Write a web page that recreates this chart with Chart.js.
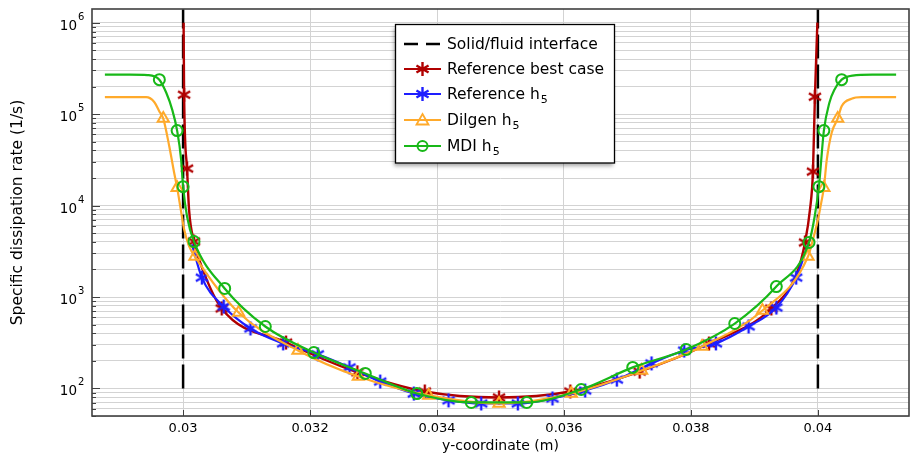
<!DOCTYPE html>
<html>
<head>
<meta charset="utf-8">
<script src="https://cdn.jsdelivr.net/npm/chart.js@4.4.1/dist/chart.umd.min.js"></script>
<style>
  html, body { margin: 0; padding: 0; background: #fff; overflow: hidden; }
  #wrap { width: 918px; height: 457px; }
</style>
</head>
<body>
<div id="wrap"><canvas id="dissipationChart" width="918" height="457"></canvas></div>
<script>
'use strict';

// values: x = y-coordinate (m), y = specific dissipation rate (1/s)
const interfaceX = [0.03, 0.04];
const interfaceY = [100, 1.4e6];

// Reference best case (markers + extra points on the line)
const bestMarkX = [0.030016, 0.030062, 0.030172, 0.030608, 0.031622, 0.032746, 0.033807, 0.034977, 0.036100, 0.037192, 0.038284, 0.039267, 0.039797, 0.039922, 0.039953];
const bestMarkY = [1.63e5, 2.54e4, 4.04e3, 749, 318, 150, 92.7, 79.7, 92.7, 153, 310, 749, 3.95e3, 2.35e4, 1.55e5];
const bestLineX = [0.030008, 0.030094, 0.030328, 0.039672, 0.039875, 0.039992];
const bestLineY = [1.0e6, 9.0e3, 1.85e3, 1.85e3, 9.0e3, 1.0e6];

// Reference h5
const refMarkX = [0.030296, 0.030640, 0.031061, 0.031576, 0.032122, 0.032621, 0.033105, 0.033635, 0.034181, 0.034696, 0.035273, 0.035819, 0.036334, 0.036833, 0.037379, 0.037894, 0.038393, 0.038908, 0.039345, 0.039657];
const refMarkY = [1630, 787, 453, 311, 236, 170, 119, 88, 74, 68.5, 68.5, 77.8, 95, 125, 188, 260, 311, 476, 767, 1630];
const refLineX = [0.030140, 0.039844];
const refLineY = [3750, 3750];

// Dilgen h5
const dilgenMarkX = [0.029688, 0.029906, 0.030187, 0.030874, 0.031810, 0.032761, 0.033869, 0.034977, 0.036115, 0.037223, 0.038175, 0.039126, 0.039844, 0.040094, 0.040312];
const dilgenMarkY = [8.93e4, 1.57e4, 2.77e3, 677, 260, 135, 83.9, 68.6, 88.1, 157, 288, 712, 2.77e3, 1.57e4, 8.93e4];
const dilgenLineX = [0.028768, 0.029418, 0.029548, 0.029626, 0.029782, 0.029860, 0.029964, 0.030016, 0.030094, 0.039922, 0.040000, 0.040052, 0.040140, 0.040218, 0.040374, 0.040530, 0.040686, 0.041232];
const dilgenLineY = [1.53e5, 1.53e5, 1.35e5, 1.07e5, 4.45e4, 2.27e4, 9.0e3, 5.5e3, 3.6e3, 4.25e3, 7.0e3, 1.07e4, 3.18e4, 6.3e4, 1.22e5, 1.47e5, 1.53e5, 1.53e5];

// MDI h5
const mdiMarkX = [0.029626, 0.029906, 0.030000, 0.030172, 0.030655, 0.031295, 0.032059, 0.032870, 0.033682, 0.034540, 0.035413, 0.036271, 0.037083, 0.037925, 0.038690, 0.039345, 0.039860, 0.040016, 0.040094, 0.040374];
const mdiMarkY = [2.38e5, 6.6e4, 1.61e4, 4.04e3, 1240, 476, 247, 146, 88, 70.3, 70.3, 97.5, 170, 267, 513, 1300, 3950, 1.61e4, 6.6e4, 2.38e5];
const mdiLineX = [0.028768, 0.029158, 0.029438, 0.029735, 0.029828, 0.029969, 0.030062, 0.039949, 0.040182, 0.040260, 0.040546, 0.040858, 0.041232];
const mdiLineY = [2.70e5, 2.70e5, 2.67e5, 1.71e5, 1.12e5, 3.18e4, 7.6e3, 7.6e3, 1.34e5, 1.85e5, 2.64e5, 2.70e5, 2.70e5];

const seriesLabels = ['Solid/fluid interface', 'Reference best case', 'Reference h', 'Dilgen h', 'MDI h'];
const seriesSubs = ['', '', '5', '5', '5'];

const xTicks = [0.03, 0.032, 0.034, 0.036, 0.038, 0.04];
const xMin = 0.028565, xMax = 0.041435;
const yMin = 50, yMax = 1.41e6;
const yDecades = [10, 100, 1000, 1e4, 1e5, 1e6];
const yMantissas = [1, 2, 3, 4, 5, 6, 7, 8, 9];

const FONT = 'DejaVu Sans';
const RED = '#b00000', BLUE = '#1e1eff', ORANGE = '#ffaa2b', GREEN = '#18b818';
const GRID = '#d3d3d3';

const yGrid = yDecades.flatMap(d => yMantissas.map(m => m * d)).filter(v => v >= yMin && v <= yMax);
const isDecade = v => Math.abs(Math.log10(v) - Math.round(Math.log10(v))) < 1e-9;

function points(xs, ys) {
    return xs.map((x, i) => ({x: x, y: ys[i]}));
}
function merged(xa, ya, xb, yb) {
    return points(xa, ya).concat(points(xb, yb)).sort((a, b) => a.x - b.x);
}

function drawAsterisk(ctx, cx, cy, r, color) {
    ctx.strokeStyle = color;
    ctx.lineWidth = 2.4;
    ctx.beginPath();
    for (let k = 0; k < 3; k++) {
        const a = Math.PI / 2 + k * Math.PI / 3;
        ctx.moveTo(cx + r * Math.cos(a), cy + r * Math.sin(a));
        ctx.lineTo(cx - r * Math.cos(a), cy - r * Math.sin(a));
    }
    ctx.stroke();
}
function asteriskImage(color) {
    const c = document.createElement('canvas');
    c.width = 18; c.height = 18;
    drawAsterisk(c.getContext('2d'), 9, 9, 7, color);
    return c;
}

const interfaceData = [
    {x: interfaceX[0], y: interfaceY[0]}, {x: interfaceX[0], y: interfaceY[1]},
    {x: (interfaceX[0] + interfaceX[1]) / 2, y: null},
    {x: interfaceX[1], y: interfaceY[0]}, {x: interfaceX[1], y: interfaceY[1]}
];

function lineSet(data, color, width, order) {
    return {data, borderColor: color, borderWidth: width, pointRadius: 0,
        cubicInterpolationMode: 'monotone', fill: false, order};
}
function markSet(data, color, style, radius, order) {
    return {data, showLine: false, borderColor: color, backgroundColor: 'rgba(0,0,0,0)',
        pointStyle: style, pointRadius: radius, pointBorderWidth: 2, order};
}

const frame = {
    id: 'frame',
    afterDatasetsDraw(chart) {
        const {ctx, chartArea: a, scales: {x, y}} = chart;
        ctx.save();
        ctx.strokeStyle = '#404040';
        ctx.lineWidth = 1;
        ctx.beginPath();
        y.ticks.forEach(t => {
            const py = Math.round(y.getPixelForValue(t.value)) + 0.5;
            ctx.moveTo(a.left, py);
            ctx.lineTo(a.left + (isDecade(t.value) ? 8 : 4), py);
        });
        x.ticks.forEach(t => {
            const px = Math.round(x.getPixelForValue(t.value)) + 0.5;
            ctx.moveTo(px, a.bottom);
            ctx.lineTo(px, a.bottom - 6);
        });
        ctx.stroke();
        ctx.lineWidth = 1.6;
        ctx.strokeRect(a.left, a.top, a.right - a.left, a.bottom - a.top);

        ctx.fillStyle = '#000';
        ctx.textBaseline = 'alphabetic';
        y.ticks.filter(t => isDecade(t.value)).forEach(t => {
            const py = y.getPixelForValue(t.value);
            ctx.font = '13.5px "' + FONT + '"';
            ctx.textAlign = 'right';
            ctx.fillText('10', a.left - 15, py + 7);
            ctx.font = '10px "' + FONT + '"';
            ctx.textAlign = 'left';
            ctx.fillText(String(Math.round(Math.log10(t.value))), a.left - 14, py - 3);
        });
        ctx.restore();
    }
};

const boxLegend = {
    id: 'boxLegend',
    afterDraw(chart) {
        const ctx = chart.ctx;
        const bx = 395.5, by = 24.5, bw = 219, bh = 138.5;
        const rows = [44, 69, 94, 120, 146];
        ctx.save();
        ctx.shadowColor = 'rgba(0,0,0,0.35)';
        ctx.shadowBlur = 4;
        ctx.shadowOffsetX = -2;
        ctx.shadowOffsetY = 3;
        ctx.fillStyle = '#fff';
        ctx.fillRect(bx, by, bw, bh);
        ctx.restore();

        ctx.save();
        ctx.strokeStyle = '#000';
        ctx.lineWidth = 1.3;
        ctx.strokeRect(bx, by, bw, bh);

        const colors = ['#000', RED, BLUE, ORANGE, GREEN];
        rows.forEach((ry, i) => {
            ctx.strokeStyle = colors[i];
            ctx.lineWidth = i === 0 ? 2.5 : 2;
            ctx.setLineDash(i === 0 ? [14, 8] : []);
            ctx.beginPath();
            ctx.moveTo(404, ry);
            ctx.lineTo(441, ry);
            ctx.stroke();
            ctx.setLineDash([]);
            if (i === 1 || i === 2) {
                drawAsterisk(ctx, 422.5, ry, 7, colors[i]);
            } else if (i === 3) {
                ctx.lineWidth = 1.8;
                ctx.beginPath();
                ctx.moveTo(422.5, ry - 6);
                ctx.lineTo(428.5, ry + 4.5);
                ctx.lineTo(416.5, ry + 4.5);
                ctx.closePath();
                ctx.stroke();
            } else if (i === 4) {
                ctx.lineWidth = 2;
                ctx.beginPath();
                ctx.arc(422.5, ry, 5, 0, Math.PI * 2);
                ctx.stroke();
            }
            ctx.fillStyle = '#000';
            ctx.textAlign = 'left';
            ctx.textBaseline = 'middle';
            ctx.font = '15.5px "' + FONT + '"';
            ctx.fillText(seriesLabels[i], 447, ry + 1);
            if (seriesSubs[i]) {
                const w = ctx.measureText(seriesLabels[i]).width;
                ctx.font = '11px "' + FONT + '"';
                ctx.fillText(seriesSubs[i], 447 + w + 1, ry + 6);
            }
        });
        ctx.restore();
    }
};

new Chart('dissipationChart', {
    type: 'line',
    data: {
        datasets: [
            Object.assign(lineSet(interfaceData, '#000', 2.5, 50), {borderDash: [24, 6], spanGaps: false, cubicInterpolationMode: 'default', tension: 0}),
            lineSet(merged(bestMarkX, bestMarkY, bestLineX, bestLineY), RED, 2.4, 41),
            markSet(points(bestMarkX, bestMarkY), RED, asteriskImage(RED), 7, 40),
            lineSet(merged(refMarkX, refMarkY, refLineX, refLineY), BLUE, 2.2, 31),
            markSet(points(refMarkX, refMarkY), BLUE, asteriskImage(BLUE), 7, 30),
            lineSet(merged(dilgenMarkX, dilgenMarkY, dilgenLineX, dilgenLineY), ORANGE, 2.2, 21),
            markSet(points(dilgenMarkX, dilgenMarkY), ORANGE, 'triangle', 6.5, 20),
            lineSet(merged(mdiMarkX, mdiMarkY, mdiLineX, mdiLineY), GREEN, 2.2, 11),
            markSet(points(mdiMarkX, mdiMarkY), GREEN, 'circle', 5.5, 10)
        ]
    },
    options: {
        responsive: false,
        animation: false,
        devicePixelRatio: 1,
        layout: {padding: {top: 9, right: 1, left: 0, bottom: 0}},
        plugins: {legend: {display: false}, tooltip: {enabled: false}},
        scales: {
            x: {
                type: 'linear',
                min: xMin,
                max: xMax,
                afterBuildTicks: s => { s.ticks = xTicks.map(v => ({value: v})); },
                afterFit: s => { s.height = 41; },
                grid: {color: GRID, lineWidth: 1, drawTicks: false},
                border: {display: false},
                ticks: {
                    font: {family: FONT, size: 13}, color: '#000', padding: 5,
                    maxRotation: 0, autoSkip: false,
                    callback: v => String(v)
                },
                title: {display: true, text: 'y-coordinate (m)', color: '#000',
                    font: {family: FONT, size: 14}, padding: {top: 0, bottom: 2}}
            },
            y: {
                type: 'logarithmic',
                min: yMin,
                max: yMax,
                afterBuildTicks: s => { s.ticks = yGrid.map(v => ({value: v})); },
                afterFit: s => { s.width = 92; },
                grid: {color: GRID, lineWidth: 1, drawTicks: false},
                border: {display: false},
                ticks: {display: false},
                title: {display: true, text: 'Specific dissipation rate (1/s)', color: '#000',
                    font: {family: FONT, size: 15.5}, padding: {top: 9, bottom: 0}}
            }
        }
    },
    plugins: [frame, boxLegend]
});
</script>
</body>
</html>
